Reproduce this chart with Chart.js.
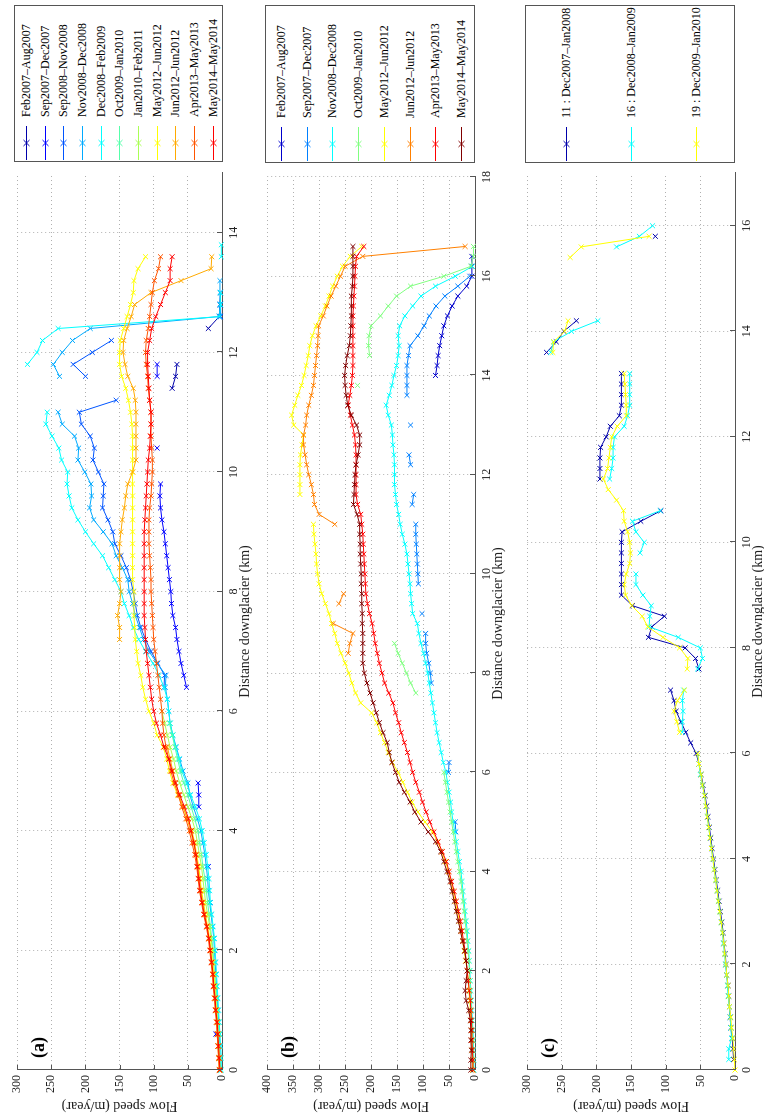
<!DOCTYPE html>
<html>
<head>
<meta charset="utf-8">
<script src="https://cdn.jsdelivr.net/npm/chart.js@4.4.1/dist/chart.umd.min.js"></script>
<style>
html, body { margin:0; padding:0; background:#fff; width:764px; height:1118px; overflow:hidden; }
#fig { position:absolute; left:0; top:0; width:1118px; height:764px; transform-origin:0 0; transform: translate(0px, 1118px) rotate(-90deg); background:#fff; }
#fig canvas { position:absolute; left:0; }
.legend { position:absolute; box-sizing:border-box; border:1px solid #555; background:#fff; font-family:"Liberation Serif","Times New Roman",serif; font-size:12px; color:#000; }
.legend .item { position:absolute; left:0; right:0; height:16px; line-height:16px; white-space:nowrap; }
.legend .item canvas { position:absolute; left:6px; top:0; }
.legend .item span { position:absolute; left:44px; top:0; }
</style>
</head>
<body>
<div id="fig"></div>
<script>
const _ = null;

// ---------- Panel (a) ----------
const distA = [0,0.2,0.4,0.6,0.8,1,1.2,1.4,1.6,1.8, 2,2.2,2.4,2.6,2.8,3,3.2,3.4,3.6,3.8,
  4,4.2,4.4,4.6,4.8,5,5.2,5.4,5.6,5.8, 6,6.2,6.4,6.6,6.8,7,7.2,7.4,7.6,7.8,
  8,8.2,8.4,8.6,8.8,9,9.2,9.4,9.6,9.8, 10,10.2,10.4,10.6,10.8,11,11.2,11.4,11.6,11.8,
  12,12.2,12.4,12.6,12.8,13,13.2,13.4,13.6,13.8];
const labelsA = ['Feb2007–Aug2007','Sep2007–Dec2007','Sep2008–Nov2008','Nov2008–Dec2008','Dec2008–Feb2009',
  'Oct2009–Jan2010','Jan2010–Feb2011','May2012–Jun2012','Jun2012–Jun2012','Apr2013–May2013','May2014–May2014'];
const a_feb2007 = [
  _,_,_,_,_,_,_,_,_,_,
  _,_,_,_,_,_,_,_,_,_,
  _,_,_,_,_,_,_,_,_,_,
  _,_,_,_,_,_,_,_,_,_,
  _,_,_,_,_,_,_,_,_,_,
  _,_,_,_,_,_,_,73,68,66,
  _,_,20,4,3,2,_,_,_,_];
const a_sep2007 = [
  _,_,_,9,_,_,_,_,_,_,
  _,_,_,_,17,_,_,20,_,_,
  _,_,34,34,35,_,_,_,_,_,
  _,_,52,56,60,63,66,68,72,74,
  75,77,79,81,83,85,88,90,91,90,
  _,_,95,_,_,_,_,_,95,95,
  _,_,_,2,2,_,_,_,_,_];
const a_sep2008 = [
  _,_,_,_,_,_,_,_,_,_,
  _,_,_,_,_,_,_,_,_,_,
  _,_,_,_,_,_,_,_,_,_,
  _,_,85,84,94,104,112,119,124,127,
  130,134,140,148,157,160,167,175,174,173,
  181,189,187,193,206,209,155,_,200,218,
  190,162,_,_,_,_,_,_,_,_];
const a_nov2008 = [
  2,3,3,4,5,6,7,8,9,10,
  11,12,14,16,18,20,21,23,25,28,
  31,36,42,47,50,57,62,67,72,76,
  78,80,83,82,95,107,115,121,127,131,
  136,138,146,155,161,174,188,194,191,192,
  201,211,210,216,234,240,_,_,238,247,
  234,219,193,4,3,3,3,_,_,_];
const a_dec2008 = [
  1,1,2,3,4,5,6,7,8,9,
  10,11,13,15,17,18,19,21,23,26,
  29,33,39,46,52,59,63,68,72,76,
  78,80,85,92,101,112,122,130,136,143,
  148,157,166,175,188,200,211,220,224,227,
  226,235,239,249,258,256,_,_,_,285,
  271,263,240,3,2,2,_,_,1,1];
const a_oct2009 = [
  2,3,4,5,6,7,8,9,11,12,
  13,15,17,19,21,23,25,28,30,33,
  35,40,45,50,56,61,65,69,73,77,
  _,_,_,_,_,_,_,_,_,_,
  _,_,_,_,_,_,_,_,_,_,
  _,_,_,_,_,_,_,_,_,_,
  _,_,_,_,_,_,_,_,_,_];
const a_jan2010 = [
  3,4,5,5,6,8,9,10,11,13,
  14,16,18,21,24,26,28,30,33,36,
  39,44,50,56,62,67,71,76,80,84,
  88,_,_,_,_,_,_,_,_,_,
  _,_,_,_,_,_,_,_,_,_,
  _,_,_,_,_,_,_,_,_,_,
  _,_,_,_,_,_,_,_,_,_];
const a_may2012 = [
  3,4,5,6,7,8,10,11,12,14,
  16,18,21,24,27,30,32,34,37,40,
  44,50,57,65,72,77,81,86,95,100,
  107,112,116,119,123,125,127,128,129,129,
  129,131,131,131,131,131,131,131,131,131,
  131,131,131,131,132,134,137,141,147,150,
  150,149,144,139,134,130,129,123,112,_];
const a_jun2012 = [
  4,5,6,7,8,9,11,12,14,15,
  17,19,22,25,28,31,33,35,38,42,
  46,51,57,63,68,72,76,80,_,_,
  _,_,_,_,_,_,150,150,153,150,
  148,150,150,150,150,148,146,143,141,138,
  131,126,126,126,126,126,127,130,138,142,
  145,144,139,133,128,104,60,16,15,_];
const a_apr2013 = [
  4,5,6,7,8,10,11,13,14,16,
  18,20,23,27,30,33,35,37,40,44,
  48,53,59,64,70,75,78,82,85,87,
  88,90,92,94,96,98,100,101,102,103,
  104,104,105,106,107,107,107,106,104,103,
  102,102,103,104,104,104,106,108,109,111,
  112,111,108,106,104,102,99,93,90,_];
const a_may2014 = [
  3,4,5,6,7,9,10,12,13,15,
  17,19,22,26,29,32,34,36,38,41,
  45,49,55,62,68,73,78,85,90,96,
  100,103,105,107,109,111,112,113,114,114,
  114,114,114,114,114,114,113,112,111,110,
  109,108,106,105,104,104,106,107,108,109,
  109,106,103,97,90,83,76,76,73,_];
const colorsA = ['#0000AA','#0000FF','#0055FF','#00AAFF','#00FFFF','#55FFAA','#AAFF55','#FFFF00','#FFAA00','#FF5500','#FF0000'];

// ---------- Panel (b) ----------
const distB = [0,0.2,0.4,0.6,0.8,1,1.2,1.4,1.6,1.8, 2,2.2,2.4,2.6,2.8,3,3.2,3.4,3.6,3.8,
  4,4.2,4.4,4.6,4.8,5,5.2,5.4,5.6,5.8, 6,6.2,6.4,6.6,6.8,7,7.2,7.4,7.6,7.8,
  8,8.2,8.4,8.6,8.8,9,9.2,9.4,9.6,9.8, 10,10.2,10.4,10.6,10.8,11,11.2,11.4,11.6,11.8,
  12,12.2,12.4,12.6,12.8,13,13.2,13.4,13.6,13.8, 14,14.2,14.4,14.6,14.8,15,15.2,15.4,15.6,15.8,
  16,16.2,16.4,16.6];
const labelsB = ['Feb2007–Aug2007','Sep2007–Dec2007','Nov2008–Dec2008','Oct2009–Jan2010',
  'May2012–Jun2012','Jun2012–Jun2012','Apr2013–May2013','May2014–May2014'];
const b_feb2007 = [
  _,_,_,_,_,_,_,_,_,_,
  _,_,_,_,_,_,_,_,_,_,
  _,_,_,_,_,_,_,_,_,_,
  _,_,_,_,_,_,_,_,_,_,
  _,_,_,_,_,_,_,_,_,_,
  _,_,_,_,_,_,_,_,_,_,
  _,_,_,_,_,_,_,_,_,_,
  76,73,71,68,64,60,53,44,33,16,
  6,6,6,_];
const b_sep2007 = [
  _,_,_,_,_,_,_,_,_,_,
  _,_,_,_,_,_,_,_,_,_,
  _,_,_,_,37,38,_,_,_,_,
  51,50,_,_,_,_,_,_,_,84,
  86,89,93,95,95,_,102,_,_,109,
  110,111,112,113,114,114,_,121,118,_,
  _,124,127,_,_,124,_,_,131,131,
  131,131,128,125,110,98,88,75,58,33,
  10,_,_,_];
const b_nov2008 = [
  2,2,3,3,4,5,6,7,8,9,
  10,11,12,14,15,17,19,21,23,25,
  27,30,33,36,39,42,45,47,50,53,
  56,61,65,69,73,76,79,82,85,88,
  91,95,99,104,108,111,120,122,124,125,
  127,129,131,135,140,144,147,151,153,155,
  155,155,156,158,159,161,167,171,165,160,
  156,151,148,146,148,145,135,120,104,76,
  38,5,_,_];
const b_oct2009 = [
  3,3,4,4,5,6,7,8,9,10,
  11,12,13,15,17,19,21,23,25,27,
  30,33,36,39,42,45,48,51,54,57,
  60,_,_,_,_,_,_,_,114,124,
  132,140,148,155,_,_,_,_,_,_,
  _,_,_,_,_,_,_,_,_,_,
  _,_,_,_,_,_,_,_,_,226,
  _,_,203,205,204,200,182,167,151,124,
  60,8,3,3];
const b_may2012 = [
  5,5,6,6,7,8,9,10,12,13,
  15,18,21,24,27,30,34,38,42,46,
  51,57,64,72,82,96,110,121,130,139,
  148,159,167,174,182,189,199,220,230,237,
  243,250,258,265,270,276,281,288,295,300,
  303,305,306,308,310,311,_,_,337,337,
  337,337,336,333,330,349,353,347,341,334,
  329,325,321,318,313,306,297,288,281,274,
  265,255,240,218];
const b_jun2012 = [
  _,_,_,_,_,_,_,_,_,_,
  _,_,_,_,_,_,_,_,_,_,
  _,_,_,_,_,_,_,_,_,_,
  _,_,_,_,_,_,_,_,_,_,
  _,_,244,241,235,273,_,262,253,_,
  _,_,_,_,_,270,300,309,311,315,
  320,324,327,330,330,326,324,320,315,311,
  309,307,305,303,302,301,292,285,277,268,
  259,250,216,19];
const b_apr2013 = [
  4,4,5,6,6,7,8,9,11,13,
  15,17,19,22,25,28,32,36,40,45,
  50,55,63,71,79,87,94,101,107,114,
  120,125,130,136,142,147,153,158,166,174,
  179,184,188,192,195,198,203,207,210,211,
  212,213,214,215,216,218,220,226,229,229,
  229,229,229,230,232,236,240,244,241,238,
  236,235,235,235,235,235,235,234,233,232,
  231,230,228,214];
const b_may2014 = [
  8,8,7,8,8,9,12,17,19,17,
  15,17,20,24,28,32,36,40,44,48,
  54,60,66,76,90,104,116,125,136,146,
  153,160,165,169,177,184,190,196,202,208,
  213,216,216,216,216,217,217,218,218,219,
  219,220,221,221,222,222,227,234,233,232,
  231,229,225,222,222,228,238,245,248,250,
  251,249,246,242,240,239,238,238,238,236,
  235,235,235,235];
const colorsB = ['#0000CC','#0080FF','#00FFFF','#80FF80','#FFFF00','#FF8000','#FF0000','#800000'];

// ---------- Panel (c) ----------
const distC = [0,0.2,0.4,0.6,0.8,1,1.2,1.4,1.6,1.8, 2,2.2,2.4,2.6,2.8,3,3.2,3.4,3.6,3.8,
  4,4.2,4.4,4.6,4.8,5,5.2,5.4,5.6,5.8, 6,6.2,6.4,6.6,6.8,7,7.2,7.4,7.6,7.8,
  8,8.2,8.4,8.6,8.8,9,9.2,9.4,9.6,9.8, 10,10.2,10.4,10.6,10.8,11,11.2,11.4,11.6,11.8,
  12,12.2,12.4,12.6,12.8,13,13.2,13.4,13.6,13.8, 14,14.2,14.4,14.6,14.8,15,15.2,15.4,15.6,15.8,
  16];
const labelsC = ['11 : Dec2007–Jan2008','16 : Dec2008–Jan2009','19 : Dec2009–Jan2010'];
const c_dec2007 = [
  _,2,3,4,6,7,8,9,10,12,
  13,14,16,17,19,21,23,25,27,29,
  31,33,35,37,39,41,43,46,49,52,
  56,64,71,78,85,88,93,_,52,57,
  72,125,120,102,148,164,164,164,164,164,
  164,163,136,107,_,_,195,195,195,194,
  186,180,167,164,164,164,164,_,272,258,
  247,229,_,_,_,_,_,_,_,115,
  _];
const c_dec2008 = [
  _,9,9,5,6,7,8,10,11,12,
  14,15,17,18,20,22,24,26,28,30,
  32,34,36,38,40,42,44,47,50,52,
  54,_,76,76,75,76,74,_,54,47,
  50,82,124,123,121,133,143,143,_,137,
  131,143,148,108,_,_,181,178,176,176,
  174,160,155,152,152,152,152,_,266,262,
  236,198,_,_,_,_,_,_,171,138,
  119];
const c_dec2009 = [
  0,1,2,3,5,6,8,9,10,12,
  13,15,16,18,20,22,24,26,28,30,
  32,34,36,38,40,42,44,47,49,52,
  54,_,80,84,88,83,73,_,69,68,
  80,104,126,134,149,158,160,157,152,151,
  152,155,160,161,171,183,190,184,182,180,
  178,170,157,157,158,159,160,_,263,262,
  246,241,_,_,_,_,_,238,222,124,
  _];
const colorsC = ['#0000AA','#00FFFF','#FFFF00'];

// ---------- drawing ----------
const fig = document.getElementById('fig');
const AXIS = '#555555', GRID = '#b0b0b0', TXT = '#222222';
const FONT = '"Liberation Serif", "Times New Roman", serif';

const inwardTicks = {
  id: 'inwardTicks',
  afterDraw(chart) {
    const {ctx, chartArea, scales} = chart;
    ctx.save();
    ctx.strokeStyle = AXIS; ctx.lineWidth = 1;
    ctx.beginPath();
    scales.x.ticks.forEach(t => {
      const px = Math.round(scales.x.getPixelForValue(t.value)) + 0.5;
      ctx.moveTo(px, chartArea.bottom); ctx.lineTo(px, chartArea.bottom - 5);
    });
    scales.y.ticks.forEach(t => {
      const py = Math.round(scales.y.getPixelForValue(t.value)) + 0.5;
      ctx.moveTo(chartArea.left, py); ctx.lineTo(chartArea.left + 5, py);
    });
    ctx.stroke();
    ctx.restore();
  }
};
function letterPlugin(letter) {
  return {
    id: 'letter',
    afterDraw(chart) {
      const {ctx, chartArea} = chart;
      ctx.save();
      ctx.font = 'bold 18px ' + FONT;
      ctx.fillStyle = '#000';
      ctx.textBaseline = 'middle'; ctx.textAlign = 'left';
      ctx.fillText('(' + letter + ')', chartArea.left + 12, chartArea.top + 22);
      ctx.restore();
    }
  };
}

function makeLegend(top, left, width, height, labels, colors, firstY, step) {
  const box = document.createElement('div');
  box.className = 'legend';
  Object.assign(box.style, {top: top + 'px', left: left + 'px', width: width + 'px', height: height + 'px'});
  labels.forEach((lab, i) => {
    const it = document.createElement('div');
    it.className = 'item';
    it.style.top = Math.round(firstY + step * i - 8) + 'px';
    const c = colors[i];
    const cv = document.createElement('canvas');
    cv.width = 36; cv.height = 16;
    const g = cv.getContext('2d');
    g.strokeStyle = c; g.lineWidth = 1;
    g.beginPath();
    g.moveTo(1, 8.5); g.lineTo(35, 8.5);
    g.moveTo(15, 5.5); g.lineTo(21, 11.5);
    g.moveTo(15, 11.5); g.lineTo(21, 5.5);
    g.stroke();
    it.appendChild(cv);
    const sp = document.createElement('span');
    sp.textContent = lab;
    it.appendChild(sp);
    box.appendChild(it);
  });
  fig.appendChild(box);
}

function makePanel(cfg) {
  const canvas = document.createElement('canvas');
  canvas.width = 952; canvas.height = cfg.height;
  canvas.style.top = cfg.top + 'px';
  canvas.style.width = '952px'; canvas.style.height = cfg.height + 'px';
  fig.appendChild(canvas);
  const datasets = cfg.series.map((vals, i) => ({
    label: cfg.labels[i],
    data: cfg.dist.map((d, j) => ({x: d, y: (vals[j] === undefined) ? null : vals[j]})),
    borderColor: cfg.colors[i], backgroundColor: cfg.colors[i], pointBorderColor: cfg.colors[i],
    borderWidth: 1, pointStyle: 'crossRot', pointRadius: 3.5, pointBorderWidth: 1, pointHoverRadius: 3.5,
    spanGaps: false, tension: 0, order: -i, clip: false, fill: false
  }));
  new Chart(canvas, {
    type: 'line',
    data: { datasets },
    options: {
      responsive: false, animation: false, devicePixelRatio: 1,
      events: [],
      layout: { padding: { top: 10, right: 7, left: 0, bottom: 0 } },
      plugins: { legend: { display: false }, tooltip: { enabled: false } },
      scales: {
        x: {
          type: 'linear', min: 0, max: cfg.xmax,
          ticks: { stepSize: 2, includeBounds: false, maxRotation: 0, autoSkip: false, padding: 5,
                   color: TXT, font: { family: FONT, size: 12 } },
          grid: { color: GRID, lineWidth: 1, drawTicks: false },
          border: { display: true, color: AXIS, width: 1, dash: [1, 3] },
          title: { display: true, text: 'Distance downglacier (km)', color: TXT,
                   font: { family: FONT, size: 14, lineHeight: 1.2 }, padding: { top: 0, bottom: 2 } },
          afterFit(s) { s.height = 34; }
        },
        y: {
          type: 'linear', min: 0, max: cfg.ymax,
          ticks: { stepSize: 50, autoSkip: false, padding: 5, color: TXT, font: { family: FONT, size: 12 } },
          grid: { color: GRID, lineWidth: 1, drawTicks: false },
          border: { display: true, color: AXIS, width: 1, dash: [1, 3] },
          title: { display: true, text: 'Flow speed (m/year)', color: TXT,
                   font: { family: FONT, size: 14, lineHeight: 1.2 }, padding: { top: 4, bottom: 0 } },
          afterFit(s) { s.width = 48; }
        }
      }
    },
    plugins: [inwardTicks, letterPlugin(cfg.letter)]
  });
}

makePanel({ top: 5, height: 251, xmax: 15, ymax: 300, letter: 'a', dist: distA, labels: labelsA, colors: colorsA,
  series: [a_feb2007, a_sep2007, a_sep2008, a_nov2008, a_dec2008, a_oct2009, a_jan2010, a_may2012, a_jun2012, a_apr2013, a_may2014] });
makePanel({ top: 255, height: 254, xmax: 18, ymax: 400, letter: 'b', dist: distB, labels: labelsB, colors: colorsB,
  series: [b_feb2007, b_sep2007, b_nov2008, b_oct2009, b_may2012, b_jun2012, b_apr2013, b_may2014] });
makePanel({ top: 515, height: 254, xmax: 17, ymax: 300, letter: 'c', dist: distC, labels: labelsC, colors: colorsC,
  series: [c_dec2007, c_dec2008, c_dec2009] });

makeLegend(14, 956, 157, 209, labelsA, colorsA, 11, 18.67);
makeLegend(265, 955, 158, 210, labelsB, colorsB, 15, 25.7);
makeLegend(525, 955, 158, 210, labelsC, colorsC, 40, 65);
</script>
</body>
</html>
